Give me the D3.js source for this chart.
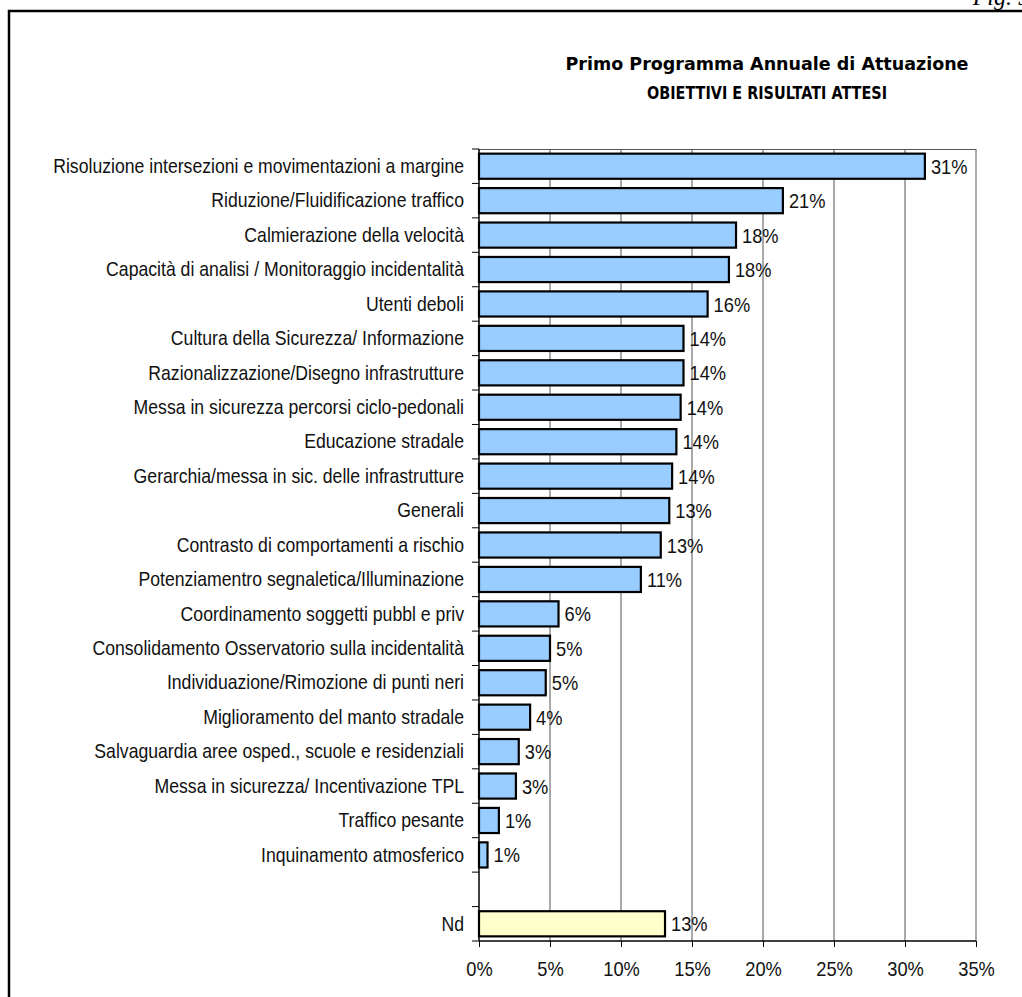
<!DOCTYPE html>
<html>
<head>
<meta charset="utf-8">
<script src="https://cdn.jsdelivr.net/npm/d3@7"></script>
<style>
  html, body { margin: 0; padding: 0; background: #fff; }
  svg { display: block; }
</style>
</head>
<body>
<svg id="chart" width="1022" height="997"></svg>
<script>
const categories = [
  "Risoluzione intersezioni e movimentazioni a margine",
  "Riduzione/Fluidificazione traffico ",
  "Calmierazione della velocità ",
  "Capacità di analisi / Monitoraggio incidentalità",
  "Utenti deboli",
  "Cultura della Sicurezza/ Informazione",
  "Razionalizzazione/Disegno infrastrutture",
  "Messa in sicurezza percorsi ciclo-pedonali",
  "Educazione stradale",
  "Gerarchia/messa in sic. delle infrastrutture",
  "Generali",
  "Contrasto di comportamenti a rischio",
  "Potenziamentro segnaletica/Illuminazione",
  "Coordinamento soggetti pubbl e priv",
  "Consolidamento Osservatorio sulla incidentalità",
  "Individuazione/Rimozione di punti neri",
  "Miglioramento del manto stradale",
  "Salvaguardia aree osped., scuole e residenziali",
  "Messa in sicurezza/ Incentivazione TPL",
  "Traffico pesante",
  "Inquinamento atmosferico",
  " ",
  "Nd"
];
const values = [31.4, 21.4, 18.1, 17.6, 16.1, 14.4, 14.4, 14.2, 13.9, 13.6, 13.4, 12.8, 11.4,
  5.6, 5.0, 4.7, 3.6, 2.8, 2.6, 1.4, 0.6, null, 13.1];
const xTicks = [0, 5, 10, 15, 20, 25, 30, 35];
const titleLines = ["Primo Programma Annuale di Attuazione", "OBIETTIVI E RISULTATI ATTESI"];
const figLabel = "Fig. 5";

const data = categories.map((c, i) => ({ cat: c, value: values[i], nd: c === "Nd" }));

const svg = d3.select("#chart");
const narrow = "'Liberation Sans Narrow', 'Arial Narrow', 'Liberation Sans', Arial, sans-serif";

// condense text horizontally (Arial Narrow look)
function condense(sel, k) {
  sel.each(function () {
    const w = this.getComputedTextLength();
    if (w > 0) {
      d3.select(this).attr("textLength", w * k).attr("lengthAdjust", "spacingAndGlyphs");
    }
  });
}

// frame
svg.append("path")
  .attr("d", "M9,997 L9,11 L1022,11")
  .attr("fill", "none").attr("stroke", "#000").attr("stroke-width", 2.5);

svg.append("text").attr("x", 1030).attr("y", 5).attr("text-anchor", "end")
  .attr("font-family", "'Liberation Serif', 'Times New Roman', serif")
  .attr("font-style", "italic").attr("font-size", 24).text(figLabel);

// title
const titleWidths = [403, 240];
svg.append("g").selectAll("text").data(titleLines).join("text")
  .attr("x", 767).attr("y", (d, i) => 70 + i * 29)
  .attr("text-anchor", "middle")
  .attr("font-family", "'DejaVu Sans', sans-serif")
  .attr("font-weight", "bold").attr("font-size", 17.5)
  .attr("textLength", (d, i) => titleWidths[i])
  .attr("lengthAdjust", "spacingAndGlyphs")
  .text(d => d);

const x = d3.scaleLinear().domain([0, 35]).range([479, 976]);
const y = d3.scaleBand().domain(categories).range([149, 941]).paddingInner(0.27).paddingOuter(0.135);

// gridlines
svg.append("g").selectAll("line").data(xTicks.slice(1)).join("line")
  .attr("x1", d => x(d)).attr("x2", d => x(d))
  .attr("y1", 149).attr("y2", 941)
  .attr("stroke", "#555").attr("stroke-width", 1);
svg.append("line").attr("x1", 479).attr("x2", 976).attr("y1", 149.5).attr("y2", 149.5)
  .attr("stroke", "#555").attr("stroke-width", 1);

// bars
svg.append("g").selectAll("rect").data(data.filter(d => d.value != null)).join("rect")
  .attr("x", x(0))
  .attr("y", d => y(d.cat))
  .attr("width", d => x(d.value) - x(0))
  .attr("height", y.bandwidth())
  .attr("fill", d => d.nd ? "#FFFFCC" : "#99CCFF")
  .attr("stroke", "#000").attr("stroke-width", 2.2);

// value labels
svg.append("g").selectAll("text").data(data.filter(d => d.value != null)).join("text")
  .attr("x", d => x(d.value) + 6)
  .attr("y", d => y(d.cat) + y.bandwidth() / 2)
  .attr("dy", "0.36em")
  .attr("font-family", narrow).attr("font-size", 21).attr("fill", "#111")
  .text(d => Math.round(d.value) + "%")
  .call(condense, 0.87);

// y axis
const yAxis = d3.axisLeft(y).tickSize(0).tickPadding(15);
const gy = svg.append("g").attr("transform", "translate(479,0)").call(yAxis);
gy.select(".domain").remove();
gy.selectAll("text").attr("font-family", narrow).attr("font-size", 21).attr("fill", "#111")
  .call(condense, 0.84);
// boundary ticks
const bounds = d3.range(categories.length + 1).map(i => 149 + i * (941 - 149) / categories.length);
svg.append("g").selectAll("line").data(bounds).join("line")
  .attr("x1", 472).attr("x2", 479).attr("y1", d => d).attr("y2", d => d)
  .attr("stroke", "#000").attr("stroke-width", 1);
svg.append("line").attr("x1", 479).attr("x2", 479).attr("y1", 149).attr("y2", 941)
  .attr("stroke", "#000").attr("stroke-width", 1.5);

// x axis
const xAxis = d3.axisBottom(x).tickValues(xTicks).tickFormat(d => d + "%").tickSize(6).tickPadding(14);
const gx = svg.append("g").attr("transform", "translate(0,941)").call(xAxis);
gx.select(".domain").attr("stroke-width", 1.5).attr("d", "M479,0H976");
gx.selectAll("text").attr("font-family", narrow).attr("font-size", 21).attr("fill", "#111")
  .call(condense, 0.87);
</script>
</body>
</html>
